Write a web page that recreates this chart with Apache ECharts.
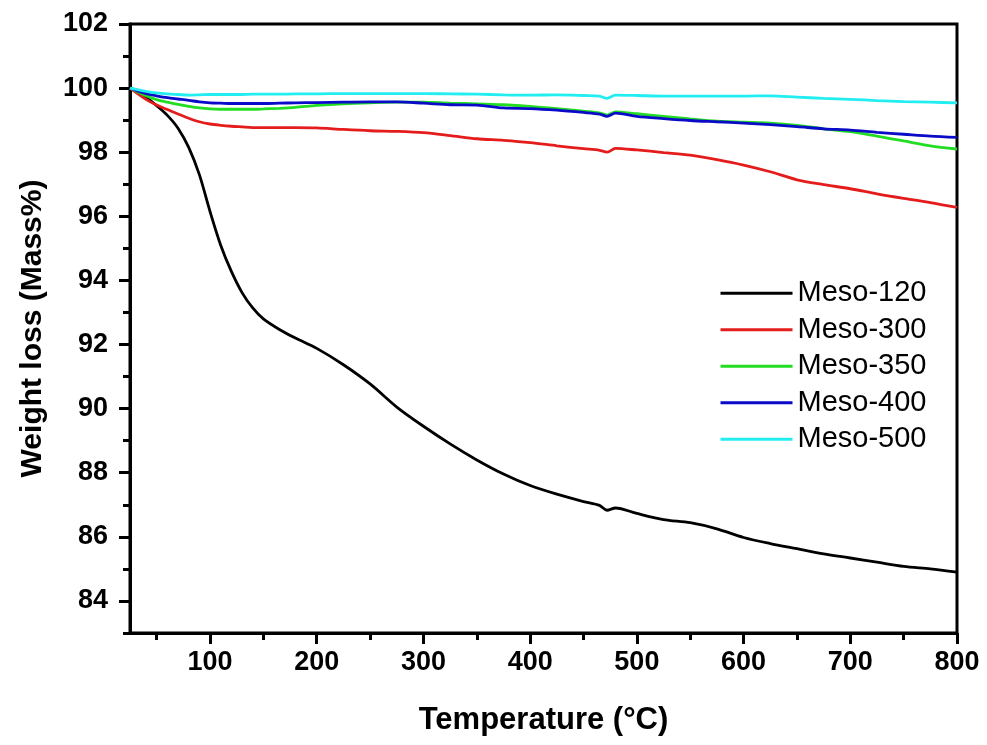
<!DOCTYPE html>
<html>
<head>
<meta charset="utf-8">
<title>TGA</title>
<script src="https://cdn.jsdelivr.net/npm/echarts@6/dist/echarts.min.js"></script>
<style>
  html, body { margin: 0; padding: 0; background: #fff; }
  #tga { width: 987px; height: 745px; }
</style>
</head>
<body>
<div id="tga"></div>
<script>
// temperature points (°C) shared by every curve
var temps = [25, 40, 50, 60, 70, 80, 90, 100, 110, 120, 130, 140, 150, 165, 180, 200, 225, 250, 275, 300,
             325, 350, 375, 400, 425, 450, 465, 472, 480, 500, 525, 550, 575, 600, 625, 650, 675, 700, 725, 750, 775, 800];

var meso120 = [100, 99.72, 99.45, 99.15, 98.75, 98.15, 97.3, 96.15, 95.1, 94.28, 93.62, 93.14, 92.8, 92.47, 92.2, 91.88, 91.37, 90.77, 90.05, 89.45,
               88.9, 88.4, 87.96, 87.6, 87.33, 87.1, 86.98, 86.83, 86.9, 86.73, 86.54, 86.44, 86.25, 85.98, 85.79, 85.63, 85.47, 85.34, 85.21, 85.08, 85.0, 84.9];
var meso300 = [100, 99.65, 99.47, 99.33, 99.19, 99.06, 98.95, 98.88, 98.84, 98.81, 98.79, 98.77, 98.77, 98.77, 98.77, 98.76, 98.71, 98.67, 98.65, 98.61,
               98.52, 98.42, 98.37, 98.3, 98.2, 98.11, 98.06, 98.0, 98.12, 98.07, 97.99, 97.91, 97.77, 97.6, 97.39, 97.14, 96.99, 96.86, 96.7, 96.56, 96.43, 96.28];
var meso350 = [100, 99.76, 99.64, 99.56, 99.49, 99.43, 99.38, 99.35, 99.34, 99.34, 99.34, 99.34, 99.35, 99.37, 99.4, 99.46, 99.51, 99.54, 99.56, 99.56,
               99.53, 99.51, 99.48, 99.43, 99.36, 99.28, 99.23, 99.16, 99.26, 99.2, 99.12, 99.04, 98.97, 98.94, 98.91, 98.84, 98.73, 98.64, 98.5, 98.35, 98.2, 98.1];
var meso400 = [100, 99.83, 99.76, 99.7, 99.66, 99.62, 99.57, 99.54, 99.53, 99.52, 99.52, 99.52, 99.52, 99.53, 99.54, 99.55, 99.56, 99.57, 99.57, 99.53,
               99.48, 99.47, 99.38, 99.36, 99.31, 99.24, 99.19, 99.12, 99.22, 99.12, 99.05, 98.99, 98.95, 98.91, 98.86, 98.8, 98.73, 98.69, 98.62, 98.56, 98.5, 98.46];
var meso500 = [100, 99.9, 99.85, 99.82, 99.8, 99.78, 99.79, 99.8, 99.8, 99.8, 99.8, 99.81, 99.81, 99.81, 99.82, 99.82, 99.83, 99.83, 99.83, 99.83,
               99.82, 99.81, 99.79, 99.78, 99.79, 99.77, 99.75, 99.68, 99.78, 99.77, 99.75, 99.75, 99.75, 99.75, 99.76, 99.72, 99.68, 99.65, 99.61, 99.58, 99.56, 99.54];

var seriesNames = ['Meso-120', 'Meso-300', 'Meso-350', 'Meso-400', 'Meso-500'];
var seriesColors = ['#000000', '#e41c1c', '#22dd22', '#0a0ac8', '#22eef2'];

// axis ticks
var xMajor = [100, 200, 300, 400, 500, 600, 700, 800];
var xMinor = [50, 150, 250, 350, 450, 550, 650, 750];
var yMajor = [84, 86, 88, 90, 92, 94, 96, 98, 100, 102];
var yMinor = [83, 85, 87, 89, 91, 93, 95, 97, 99, 101];

var FONT = "'Liberation Sans', Arial, sans-serif";

function pairs(vals) {
    var res = [];
    for (var i = 0; i < temps.length; i++) {
        res.push([temps[i], vals[i]]);
    }
    return res;
}

var chart = echarts.init(document.getElementById('tga'));
var allData = [meso120, meso300, meso350, meso400, meso500];

var option = {
    animation: false,
    backgroundColor: '#fff',
    grid: {
        left: 130, top: 24, right: 30, bottom: 112,
        show: true, borderColor: '#000', borderWidth: 3
    },
    legend: {
        orient: 'vertical',
        left: 714, top: 273,
        itemWidth: 72, itemHeight: 14, itemGap: 6,
        itemStyle: { opacity: 0 },
        lineStyle: { width: 3 },
        textStyle: { fontFamily: FONT, fontSize: 29, lineHeight: 30.5, color: '#000' },
        data: seriesNames
    },
    xAxis: [{
        type: 'value', min: 25, max: 800,
        name: 'Temperature (°C)', nameLocation: 'middle', nameGap: 72,
        nameTextStyle: { fontFamily: FONT, fontSize: 31, fontWeight: 'bold', color: '#000' },
        axisLine: { lineStyle: { color: '#000', width: 3 } },
        axisTick: { customValues: xMajor, length: 11, lineStyle: { color: '#000', width: 3 } },
        axisLabel: { customValues: xMajor, margin: 16, fontFamily: FONT, fontSize: 27, fontWeight: 'bold', color: '#000' },
        splitLine: { show: false }
    }, {
        type: 'value', min: 25, max: 800, position: 'bottom',
        axisLine: { show: false },
        axisTick: { customValues: xMinor, length: 7, lineStyle: { color: '#000', width: 3 } },
        axisLabel: { show: false },
        splitLine: { show: false }
    }],
    yAxis: [{
        type: 'value', min: 83, max: 102,
        name: 'Weight loss (Mass%)', nameLocation: 'middle', nameGap: 82,
        nameTextStyle: { fontFamily: FONT, fontSize: 30, fontWeight: 'bold', color: '#000' },
        axisLine: { lineStyle: { color: '#000', width: 3 } },
        axisTick: { customValues: yMajor, length: 11, lineStyle: { color: '#000', width: 3 } },
        axisLabel: { customValues: yMajor, margin: 22, fontFamily: FONT, fontSize: 27, fontWeight: 'bold', color: '#000' },
        splitLine: { show: false }
    }, {
        type: 'value', min: 83, max: 102, position: 'left',
        axisLine: { show: false },
        axisTick: { customValues: yMinor, length: 7, lineStyle: { color: '#000', width: 3 } },
        axisLabel: { show: false },
        splitLine: { show: false }
    }],
    series: seriesNames.map(function(name, i) {
        return {
            name: name,
            type: 'line',
            xAxisIndex: 0,
            yAxisIndex: 0,
            symbol: 'none',
            smooth: 0.3,
            color: seriesColors[i],
            lineStyle: { width: 2.8, color: seriesColors[i] },
            data: pairs(allData[i])
        };
    })
};

chart.setOption(option);
</script>
</body>
</html>
